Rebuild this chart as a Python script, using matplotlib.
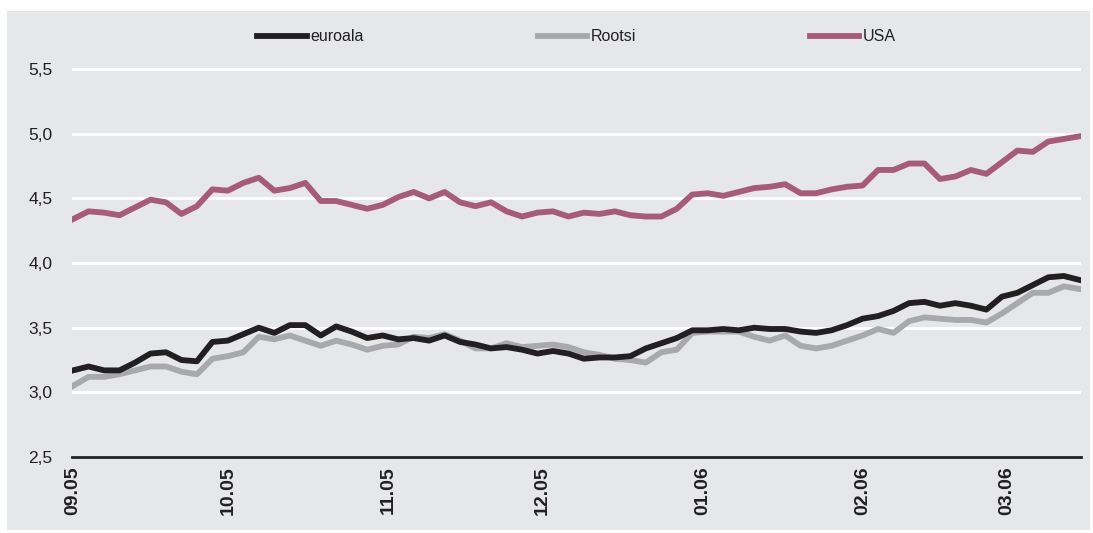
import pandas as pd
import matplotlib
matplotlib.use('Agg')
import matplotlib.pyplot as plt
import matplotlib.dates as mdates
from matplotlib.patches import Rectangle
from matplotlib.ticker import FuncFormatter

plt.rcParams['font.family'] = ['Liberation Sans', 'DejaVu Sans']

# observations every third day, 01.09.2005 - 15.03.2006
dates = pd.date_range('2005-09-01', periods=66, freq='3D')

euroala = [3.17, 3.20, 3.17, 3.17, 3.23, 3.30, 3.31, 3.25, 3.24, 3.39, 3.40,
           3.45, 3.50, 3.46, 3.52, 3.52, 3.44, 3.51, 3.47, 3.42, 3.44, 3.41,
           3.42, 3.40, 3.44, 3.39, 3.37, 3.34, 3.35, 3.33, 3.30, 3.32, 3.30,
           3.26, 3.27, 3.27, 3.28, 3.34, 3.38, 3.42, 3.48, 3.48, 3.49, 3.48,
           3.50, 3.49, 3.49, 3.47, 3.46, 3.48, 3.52, 3.57, 3.59, 3.63, 3.69,
           3.70, 3.67, 3.69, 3.67, 3.64, 3.74, 3.77, 3.83, 3.89, 3.90, 3.87]

rootsi = [3.05, 3.12, 3.12, 3.14, 3.17, 3.20, 3.20, 3.16, 3.14, 3.26, 3.28,
          3.31, 3.43, 3.41, 3.44, 3.40, 3.36, 3.40, 3.37, 3.33, 3.36, 3.37,
          3.43, 3.42, 3.45, 3.40, 3.34, 3.34, 3.38, 3.35, 3.36, 3.37, 3.35,
          3.31, 3.29, 3.26, 3.25, 3.23, 3.31, 3.33, 3.46, 3.47, 3.47, 3.47,
          3.43, 3.40, 3.44, 3.36, 3.34, 3.36, 3.40, 3.44, 3.49, 3.46, 3.55,
          3.58, 3.57, 3.56, 3.56, 3.54, 3.61, 3.69, 3.77, 3.77, 3.82, 3.80]

usa = [4.34, 4.40, 4.39, 4.37, 4.43, 4.49, 4.47, 4.38, 4.44, 4.57, 4.56,
       4.62, 4.66, 4.56, 4.58, 4.62, 4.48, 4.48, 4.45, 4.42, 4.45, 4.51,
       4.55, 4.50, 4.55, 4.47, 4.44, 4.47, 4.40, 4.36, 4.39, 4.40, 4.36,
       4.39, 4.38, 4.40, 4.37, 4.36, 4.36, 4.42, 4.53, 4.54, 4.52, 4.55,
       4.58, 4.59, 4.61, 4.54, 4.54, 4.57, 4.59, 4.60, 4.72, 4.72, 4.77,
       4.77, 4.65, 4.67, 4.72, 4.69, 4.78, 4.87, 4.86, 4.94, 4.96, 4.98]

bg = '#e6e7e9'
txt = '#231f20'

fig = plt.figure(figsize=(10.93, 5.33), dpi=100, facecolor='white')
fig.patches.append(Rectangle((7 / 1093, 3 / 533), 1083 / 1093, 519 / 533,
                             transform=fig.transFigure, facecolor=bg,
                             edgecolor='none', zorder=-10))

ax = fig.add_axes([72 / 1093, 76 / 533, 1009 / 1093, 437 / 533])
ax.set_facecolor(bg)

ax.plot(dates, rootsi, color='#a7a9ac', lw=4.2, label='Rootsi', zorder=3)
ax.plot(dates, euroala, color=txt, lw=4.2, label='euroala', zorder=4)
ax.plot(dates, usa, color='#a65b79', lw=4.2, label='USA', zorder=3)

ax.set_ylim(2.5, 5.88)
ax.set_yticks([2.5, 3.0, 3.5, 4.0, 4.5, 5.0, 5.5])
ax.yaxis.set_major_formatter(FuncFormatter(lambda v, p: f'{v:.1f}'.replace('.', ',')))
ax.set_xlim(dates[0] - pd.Timedelta(hours=5), dates[-1] + pd.Timedelta(hours=8))
ax.xaxis.set_major_locator(mdates.MonthLocator())
ax.xaxis.set_major_formatter(mdates.DateFormatter('%m.%y'))

ax.grid(axis='y', color='white', lw=2)
ax.set_axisbelow(True)
for s in ['top', 'right', 'left']:
    ax.spines[s].set_visible(False)
ax.spines['bottom'].set_color(txt)
ax.spines['bottom'].set_linewidth(2)
ax.spines['bottom'].set_zorder(5)

ax.tick_params(axis='y', length=0, pad=14, labelsize=12.5, labelcolor=txt)
ax.tick_params(axis='x', length=0, pad=7, labelsize=14, labelcolor=txt)
for lab in ax.get_xticklabels():
    lab.set_rotation(90)
    lab.set_fontweight('bold')

h, l = ax.get_legend_handles_labels()
order = [1, 0, 2]
ax.legend([h[i] for i in order], [l[i] for i in order], loc='upper center',
          bbox_to_anchor=(0.5, 1.012), ncol=3, frameon=False, fontsize=11.5,
          handlelength=3.1, handletextpad=0.2, columnspacing=10.9,
          labelcolor=txt)

fig.savefig('out.png', dpi=100, facecolor='white')
